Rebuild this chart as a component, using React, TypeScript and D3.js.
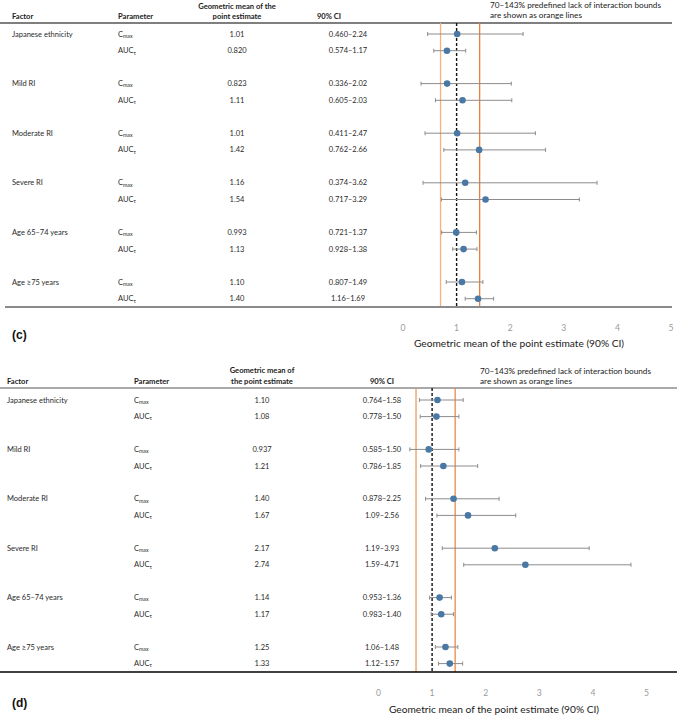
import * as d3 from 'd3';

// rows of both tables
const factors = ['Japanese ethnicity', 'Mild RI', 'Moderate RI', 'Severe RI', 'Age 65–74 years', 'Age ≥75 years'];
const params = ['Cmax', 'AUCtau'];
const paramBase = ['C', 'AUC'];
const paramSub = ['max', 'τ'];

// panel (c): two values per factor, Cmax then AUCτ
const cGeoMean = ['1.01', '0.820', '0.823', '1.11', '1.01', '1.42', '1.16', '1.54', '0.993', '1.13', '1.10', '1.40'];
const cLower = ['0.460', '0.574', '0.336', '0.605', '0.411', '0.762', '0.374', '0.717', '0.721', '0.928', '0.807', '1.16'];
const cUpper = ['2.24', '1.17', '2.02', '2.03', '2.47', '2.66', '3.62', '3.29', '1.37', '1.38', '1.49', '1.69'];

// panel (d)
const dGeoMean = ['1.10', '1.08', '0.937', '1.21', '1.40', '1.67', '2.17', '2.74', '1.14', '1.17', '1.25', '1.33'];
const dLower = ['0.764', '0.778', '0.585', '0.786', '0.878', '1.09', '1.19', '1.59', '0.953', '0.983', '1.06', '1.12'];
const dUpper = ['1.58', '1.50', '1.50', '1.85', '2.25', '2.56', '3.93', '4.71', '1.36', '1.40', '1.48', '1.57'];

const xTicks = [0, 1, 2, 3, 4, 5];
const bounds = [0.7, 1.43];
const refValue = 1;

const FONT = 'Lato, "Open Sans", sans-serif';

const cLayout = {
  label: '(c)', labelY: 335,
  xRange: [403, 671], groupRange: [34, 282], paramGap: 16.7,
  headTop: 5.5, headLine: 23, headLineColor: '#000', headLineX: [0, 672],
  bottom: 307, bottomColor: '#8a8a8a', bottomWidth: 2, bottomX: [5, 672],
  factorX: 12, paramX: 118, geoX: 237, ciHeadX: 329, ciX: 348,
  headRows: ['Geometric mean of the', 'point estimate'],
  noteX: 490, noteY: 5,
  tickY: 328, titleY: 343, titleX: 519,
  leftBound: '#f6b07c', rightBound: '#e6803e',
};

const dLayout = {
  label: '(d)', labelY: 703,
  xRange: [378.5, 646.5], groupRange: [400, 647], paramGap: 16.6,
  headTop: 370, headLine: 388, headLineColor: '#555', headLineX: [0, 677],
  bottom: 672, bottomColor: '#000', bottomWidth: 1.3, bottomX: [0, 677],
  factorX: 7, paramX: 134, geoX: 262, ciHeadX: 382, ciX: 382,
  headRows: ['Geometric mean of', 'the point estimate'],
  noteX: 480, noteY: 371,
  tickY: 693, titleY: 709, titleX: 494,
  leftBound: '#f09a58', rightBound: '#ec8a45',
};

type Layout = typeof cLayout;

const Panel = ({ cfg, geo, lo, hi }: { cfg: Layout; geo: string[]; lo: string[]; hi: string[] }) => {
  const x = d3.scaleLinear().domain([0, 5]).range(cfg.xRange);
  const yGroup = d3.scalePoint().domain(factors).range(cfg.groupRange);
  const yParam = d3.scalePoint().domain(params).range([0, cfg.paramGap]);

  const rows = factors.flatMap((f, i) =>
    params.map((p, j) => ({ f, j, k: i * 2 + j, y: (yGroup(f) as number) + (yParam(p) as number) }))
  );
  const headBottom = cfg.headTop + 10.5;

  return (
    <g fontFamily={FONT}>
      {/* column headers */}
      <g fontSize={7.6} fontWeight={700} fill="#1a1a1a" dominantBaseline="central">
        <text x={cfg.factorX} y={headBottom}>Factor</text>
        <text x={cfg.paramX} y={headBottom}>Parameter</text>
        <text x={cfg.geoX} y={cfg.headTop} textAnchor="middle">{cfg.headRows[0]}</text>
        <text x={cfg.geoX} y={headBottom} textAnchor="middle">{cfg.headRows[1]}</text>
        <text x={cfg.ciHeadX} y={headBottom} textAnchor="middle">90% CI</text>
      </g>
      <g fontSize={8.2} fill="#1a1a1a" dominantBaseline="central">
        <text x={cfg.noteX} y={cfg.noteY}>70–143% predefined lack of interaction bounds</text>
        <text x={cfg.noteX} y={cfg.noteY + 10}>are shown as orange lines</text>
      </g>
      <line x1={cfg.headLineX[0]} x2={cfg.headLineX[1]} y1={cfg.headLine} y2={cfg.headLine}
        stroke={cfg.headLineColor} strokeWidth={1.2} />

      {/* table body */}
      <g fontSize={7.5} fill="#2a2a2a" dominantBaseline="central">
        {factors.map(f => (
          <text key={f} x={cfg.factorX} y={yGroup(f)}>{f}</text>
        ))}
        {rows.map(r => (
          <g key={r.k}>
            <text x={cfg.paramX} y={r.y}>
              {paramBase[r.j]}
              <tspan fontSize={5.3} dy={1.8}>{paramSub[r.j]}</tspan>
            </text>
            <text x={cfg.geoX} y={r.y} textAnchor="middle">{geo[r.k]}</text>
            <text x={cfg.ciX} y={r.y} textAnchor="middle">{`${lo[r.k]}–${hi[r.k]}`}</text>
          </g>
        ))}
      </g>

      {/* reference and bounds */}
      <line x1={x(bounds[0])} x2={x(bounds[0])} y1={cfg.headLine} y2={cfg.bottom} stroke={cfg.leftBound} strokeWidth={1.3} />
      <line x1={x(bounds[1])} x2={x(bounds[1])} y1={cfg.headLine} y2={cfg.bottom} stroke={cfg.rightBound} strokeWidth={1.3} />
      <line x1={x(refValue)} x2={x(refValue)} y1={cfg.headLine} y2={cfg.bottom}
        stroke="#111" strokeWidth={1.4} strokeDasharray="3,2" />

      {/* estimates */}
      {rows.map(r => {
        const x0 = x(+lo[r.k]);
        const x1 = x(+hi[r.k]);
        return (
          <g key={'m' + r.k} stroke="#8c8c8c" strokeWidth={1}>
            <line x1={x0} x2={x1} y1={r.y} y2={r.y} />
            <line x1={x0} x2={x0} y1={r.y - 2} y2={r.y + 2} />
            <line x1={x1} x2={x1} y1={r.y - 2} y2={r.y + 2} />
            <circle cx={x(+geo[r.k])} cy={r.y} r={3.3} fill="#4a78a4" stroke="none" />
          </g>
        );
      })}

      <line x1={cfg.bottomX[0]} x2={cfg.bottomX[1]} y1={cfg.bottom} y2={cfg.bottom}
        stroke={cfg.bottomColor} strokeWidth={cfg.bottomWidth} />

      {/* x axis labels */}
      <g fontSize={8.6} fill="#9a9a9a" textAnchor="middle" dominantBaseline="central">
        {xTicks.map(t => (
          <text key={t} x={x(t)} y={cfg.tickY}>{t}</text>
        ))}
      </g>
      <text x={cfg.titleX} y={cfg.titleY} fontSize={10.2} fill="#1a1a1a" textAnchor="middle" dominantBaseline="central">
        Geometric mean of the point estimate (90% CI)
      </text>

      <text x={12} y={cfg.labelY} fontFamily="'Liberation Sans', Arial, sans-serif" fontWeight={700} fontSize={12}
        fill="#111" dominantBaseline="central">{cfg.label}</text>
    </g>
  );
};

export default function App() {
  return (
    <svg width={677} height={716} style={{ position: 'absolute', left: 0, top: 0, background: '#fff' }}>
      <Panel cfg={cLayout} geo={cGeoMean} lo={cLower} hi={cUpper} />
      <Panel cfg={dLayout} geo={dGeoMean} lo={dLower} hi={dUpper} />
    </svg>
  );
}
